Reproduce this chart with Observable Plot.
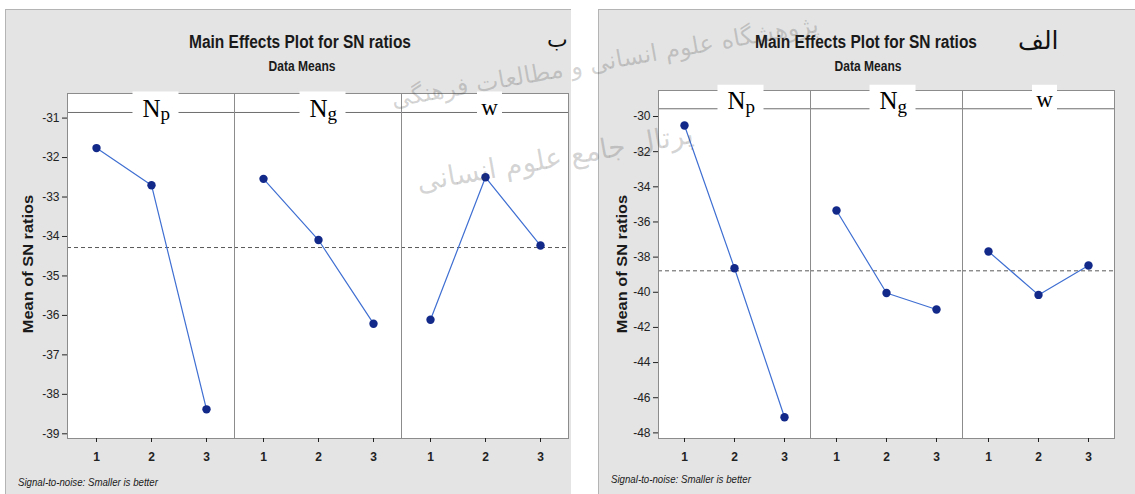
<!DOCTYPE html>
<html><head><meta charset="utf-8">
<script src="https://cdn.jsdelivr.net/npm/d3@7"></script>
<script src="https://cdn.jsdelivr.net/npm/@observablehq/plot@0.6"></script>
<style>
body{margin:0;background:#fff;}
#page{position:relative;width:1135px;height:494px;overflow:hidden;background:#fff;font-family:"Liberation Sans",Arial,sans-serif;color:#1a1a1a;}
.panel{position:absolute;background:#e4e4e4;border-top:1px solid #b4b4b4;border-left:1px solid #b4b4b4;box-sizing:border-box;}
.t{position:absolute;white-space:nowrap;line-height:1;}
.title{font-weight:bold;font-size:18px;transform:translateX(-50%) scaleX(0.86);}
.subt{font-weight:bold;font-size:14px;transform:translateX(-50%) scaleX(0.86);}
.ylab{position:absolute;white-space:nowrap;line-height:1;font-weight:bold;font-size:14px;transform:translate(-50%,-50%) rotate(-90deg) scaleX(1.17);}
.foot{position:absolute;white-space:nowrap;line-height:1;font-style:italic;font-size:11px;transform-origin:0 0;transform:scaleX(0.88);}
.fa{position:absolute;white-space:nowrap;line-height:1;font-family:"DejaVu Sans",sans-serif;color:#111;}
.wm{position:absolute;white-space:nowrap;line-height:1.2;font-family:"DejaVu Sans",sans-serif;color:rgba(60,60,60,0.22);transform:translate(-50%,-50%) rotate(-10deg);z-index:5;pointer-events:none;}
.plot{position:absolute;}
</style></head>
<body><div id="page">
  <div class="panel" style="left:5px;top:9px;width:566px;height:485px;"></div>
  <div class="panel" style="left:598px;top:9px;width:537px;height:485px;"></div>
  <div class="t title" style="left:300px;top:33px;">Main Effects Plot for SN ratios</div>
  <div class="t subt" style="left:302px;top:59px;">Data Means</div>
  <div class="fa" style="left:547px;top:29px;font-size:22px;">ب</div>
  <div class="ylab" style="left:28px;top:264px;">Mean of SN ratios</div>
  <div class="foot" style="left:18px;top:477px;">Signal-to-noise: Smaller is better</div>
  <div class="t title" style="left:866px;top:33px;">Main Effects Plot for SN ratios</div>
  <div class="t subt" style="left:868px;top:59px;">Data Means</div>
  <div class="fa" style="left:1018px;top:28px;font-size:25px;">الف</div>
  <div class="ylab" style="left:622px;top:264px;">Mean of SN ratios</div>
  <div class="foot" style="left:611px;top:474px;">Signal-to-noise: Smaller is better</div>
  <div id="plotB" class="plot" style="left:0px;top:80px;"></div>
  <div id="plotA" class="plot" style="left:595px;top:76px;"></div>
  <div class="wm" style="left:605px;top:62px;font-size:24px;" dir="rtl">پژوهشگاه علوم انسانی و مطالعات فرهنگی</div>
  <div class="wm" style="left:555px;top:158px;font-size:28px;" dir="rtl">پرتال جامع علوم انسانی</div>
</div>
<script>
// ---- data ----
const factors = ["Np", "Ng", "w"];
const levels = [1, 2, 3];
const headerMain = ["N", "N", "w"];
const headerSub = ["p", "g", ""];

// chart "ب" (left)
const bNp = [-31.76, -32.70, -38.38];
const bNg = [-32.54, -34.09, -36.21];
const bW  = [-36.11, -32.50, -34.23];
const bMean = -34.28;
const bTicks = [-31, -32, -33, -34, -35, -36, -37, -38, -39];

// chart "الف" (right)
const aNp = [-30.51, -38.63, -47.11];
const aNg = [-35.35, -40.04, -40.98];
const aW  = [-37.68, -40.15, -38.48];
const aMean = -38.78;
const aTicks = [-30, -32, -34, -36, -38, -40, -42, -44, -46, -48];

function rowsFor(series) {
  return factors.flatMap((f, i) => levels.map((l, j) => ({factor: f, level: l, value: series[i][j]})));
}
const headers = factors.map((f, i) => ({factor: f, main: headerMain[i], sub: headerSub[i]}));
const subHeaders = headers.filter(d => d.sub);
const plainHeaders = headers.filter(d => !d.sub);

const rectSymbol = (w, h) => ({draw(ctx) { ctx.rect(-w / 2, -h / 2, w, h); }});

function mainEffects({rows, mean, ticks, yDomain, yHeader, width, height, mt, mr, mb, ml, boxDx, boxDy, mainDy, subDy}) {
  const hdrFont = "'Liberation Serif','Times New Roman',serif";
  const common = {fx: "factor", x: 2, y: yHeader, lineAnchor: "bottom", fontFamily: hdrFont, fill: "black"};
  return Plot.plot({
    width, height, marginTop: mt, marginRight: mr, marginBottom: mb, marginLeft: ml,
    style: {background: "transparent", fontFamily: "'Liberation Sans',Arial,sans-serif", fontSize: "12px", color: "#222"},
    fx: {domain: factors, padding: 0, axis: null},
    x: {type: "point", domain: levels, padding: 0.5},
    y: {domain: yDomain, nice: false},
    marks: [
      Plot.frame({fill: "white"}),
      Plot.ruleY([yHeader], {stroke: "#6e6e6e", strokeWidth: 1}),
      Plot.ruleY([mean], {stroke: "#5a5a5a", strokeDasharray: "4,3", strokeWidth: 1}),
      Plot.frame({stroke: "#8c8c8c"}),
      // white label boxes over the strip line
      Plot.dot(subHeaders, {fx: "factor", x: 2, y: yHeader, dx: boxDx, dy: boxDy, r: 5, symbol: rectSymbol(46, 34), fill: "white", stroke: "none"}),
      Plot.dot(plainHeaders, {fx: "factor", x: 2, y: yHeader, dx: boxDx, dy: boxDy, r: 5, symbol: rectSymbol(25, 34), fill: "white", stroke: "none"}),
      Plot.text(subHeaders, {...common, text: "main", textAnchor: "end", dx: boxDx + 5, dy: mainDy, fontSize: 25}),
      Plot.text(subHeaders, {...common, text: "sub", textAnchor: "start", dx: boxDx + 5, dy: subDy, fontSize: 19}),
      Plot.text(plainHeaders, {...common, text: "main", textAnchor: "middle", dx: boxDx, dy: mainDy - 2, fontSize: 23}),
      Plot.line(rows, {fx: "factor", x: "level", y: "value", stroke: "#3f6fd2", strokeWidth: 1.2}),
      Plot.dot(rows, {fx: "factor", x: "level", y: "value", fill: "#13298a", r: 4.2}),
      Plot.axisY({ticks, tickSize: 5, tickPadding: 3, label: null, tickFormat: d => String(d)}),
      Plot.axisX({tickSize: 4, tickPadding: 10, label: null, tickFormat: d => String(d), fontWeight: "bold"})
    ]
  });
}

document.getElementById("plotB").append(mainEffects({
  rows: rowsFor([bNp, bNg, bW]), mean: bMean, ticks: bTicks,
  yDomain: [-39.119, -30.377], yHeader: -30.858,
  width: 571, height: 410, mt: 13, mr: 3, mb: 52, ml: 67,
  boxDx: 4, boxDy: -4, mainDy: 5, subDy: 8
}));
document.getElementById("plotA").append(mainEffects({
  rows: rowsFor([aNp, aNg, aW]), mean: aMean, ticks: aTicks,
  yDomain: [-48.32, -28.52], yHeader: -29.56,
  width: 540, height: 414, mt: 14, mr: 20, mb: 52, ml: 62,
  boxDx: 6, boxDy: -7, mainDy: 0, subDy: 4
}));
</script>
</body></html>
